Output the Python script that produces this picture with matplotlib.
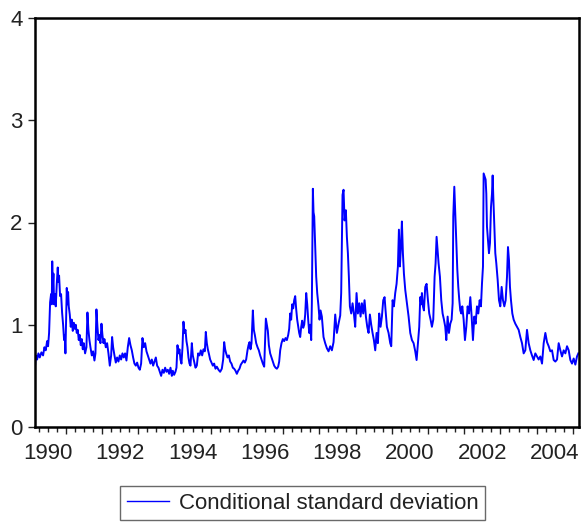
import matplotlib
matplotlib.use("Agg")
import matplotlib.pyplot as plt
from matplotlib.ticker import MultipleLocator, NullFormatter

# ---- data (decimal year, conditional std dev) ----
years_1990_1993 = [
    1990.152, 1990.171, 1990.208, 1990.244, 1990.281, 1990.327, 1990.373, 1990.410,
    1990.447, 1990.484, 1990.511, 1990.539, 1990.567, 1990.594, 1990.613, 1990.626,
    1990.640, 1990.659, 1990.677, 1990.705, 1990.723, 1990.751, 1990.778, 1990.797,
    1990.815, 1990.843, 1990.870, 1990.898, 1990.926, 1990.953, 1990.972, 1990.990,
    1991.009, 1991.027, 1991.045, 1991.064, 1991.082, 1991.110, 1991.137, 1991.165,
    1991.193, 1991.220, 1991.248, 1991.276, 1991.303, 1991.331, 1991.358, 1991.386,
    1991.414, 1991.441, 1991.469, 1991.497, 1991.533, 1991.570, 1991.598, 1991.625,
    1991.653, 1991.681, 1991.718, 1991.754, 1991.791, 1991.819, 1991.846, 1991.874,
    1991.902, 1991.929, 1991.957, 1991.985, 1992.012, 1992.040, 1992.067, 1992.104,
    1992.141, 1992.178, 1992.215, 1992.252, 1992.279, 1992.307, 1992.344, 1992.381,
    1992.417, 1992.454, 1992.491, 1992.528, 1992.565, 1992.601, 1992.638, 1992.675,
    1992.712, 1992.749, 1992.786, 1992.823, 1992.859, 1992.896, 1992.933, 1992.970,
    1993.007, 1993.044, 1993.080, 1993.117, 1993.154, 1993.191, 1993.228, 1993.265,
    1993.301, 1993.338, 1993.375, 1993.412, 1993.449, 1993.486, 1993.522, 1993.559,
    1993.596, 1993.633, 1993.670, 1993.707, 1993.743, 1993.780, 1993.817, 1993.854,
    1993.891, 1993.928,
]
values_1990_1993 = [
    0.60, 0.70, 0.66, 0.72, 0.68, 0.73, 0.70, 0.78,
    0.75, 0.84, 0.79, 0.92, 1.22, 1.30, 1.20, 1.62,
    1.35, 1.50, 1.20, 1.30, 1.18, 1.40, 1.56, 1.42,
    1.48, 1.28, 1.30, 1.12, 1.00, 0.85, 0.90, 0.72,
    1.05, 1.36, 1.20, 1.32, 1.18, 1.10, 0.98, 1.05,
    0.94, 1.02, 0.96, 1.00, 0.92, 0.95, 0.85, 0.90,
    0.80, 0.86, 0.76, 0.82, 0.72, 0.78, 1.12, 0.95,
    0.85, 0.78, 0.70, 0.74, 0.65, 0.72, 1.15, 0.98,
    0.85, 0.90, 0.82, 1.01, 0.90, 0.82, 0.86, 0.78,
    0.82, 0.72, 0.60, 0.70, 0.88, 0.78, 0.70, 0.63,
    0.68, 0.64, 0.70, 0.66, 0.72, 0.68, 0.72, 0.65,
    0.78, 0.87, 0.80, 0.75, 0.68, 0.62, 0.60, 0.63,
    0.58, 0.56, 0.62, 0.87, 0.78, 0.82, 0.74, 0.70,
    0.66, 0.62, 0.66, 0.60, 0.64, 0.68, 0.60, 0.58,
    0.54, 0.50, 0.56, 0.53, 0.58, 0.54, 0.56, 0.52,
    0.58, 0.50,
]

years_1994_1997 = [
    1993.955, 1993.991, 1994.028, 1994.056, 1994.084, 1994.111, 1994.139, 1994.166,
    1994.194, 1994.222, 1994.249, 1994.277, 1994.305, 1994.332, 1994.360, 1994.387,
    1994.415, 1994.443, 1994.480, 1994.507, 1994.544, 1994.581, 1994.618, 1994.654,
    1994.691, 1994.728, 1994.765, 1994.802, 1994.839, 1994.866, 1994.894, 1994.922,
    1994.949, 1994.986, 1995.023, 1995.060, 1995.096, 1995.133, 1995.170, 1995.216,
    1995.262, 1995.308, 1995.345, 1995.373, 1995.400, 1995.428, 1995.465, 1995.502,
    1995.538, 1995.575, 1995.612, 1995.649, 1995.686, 1995.723, 1995.759, 1995.796,
    1995.833, 1995.870, 1995.907, 1995.944, 1995.980, 1996.017, 1996.045, 1996.073,
    1996.100, 1996.128, 1996.165, 1996.192, 1996.220, 1996.257, 1996.294, 1996.330,
    1996.367, 1996.404, 1996.441, 1996.478, 1996.524, 1996.551, 1996.579, 1996.607,
    1996.643, 1996.680, 1996.717, 1996.754, 1996.791, 1996.828, 1996.864, 1996.892,
    1996.920, 1996.956, 1996.993, 1997.030, 1997.067, 1997.104, 1997.141, 1997.168,
    1997.196, 1997.223, 1997.251, 1997.279, 1997.306, 1997.334, 1997.362, 1997.389,
    1997.417, 1997.444, 1997.472, 1997.500, 1997.527, 1997.555, 1997.583, 1997.610,
    1997.638, 1997.666, 1997.693, 1997.721, 1997.748,
]
values_1994_1997 = [
    0.55, 0.51, 0.54, 0.58, 0.80, 0.72, 0.76, 0.66,
    0.62, 0.78, 1.03, 0.92, 0.95, 0.84, 0.78, 0.68,
    0.62, 0.60, 0.82, 0.70, 0.64, 0.58, 0.60, 0.72,
    0.70, 0.75, 0.70, 0.76, 0.74, 0.93, 0.82, 0.76,
    0.72, 0.66, 0.63, 0.60, 0.62, 0.57, 0.59, 0.56,
    0.54, 0.57, 0.66, 0.83, 0.76, 0.72, 0.68, 0.70,
    0.64, 0.62, 0.58, 0.57, 0.55, 0.52, 0.55, 0.57,
    0.61, 0.63, 0.65, 0.63, 0.66, 0.75, 0.80, 0.83,
    0.76, 0.82, 1.14, 0.95, 0.90, 0.82, 0.78, 0.75,
    0.70, 0.66, 0.62, 0.59, 1.06, 1.00, 0.94, 0.80,
    0.72, 0.68, 0.64, 0.60, 0.58, 0.57, 0.59, 0.64,
    0.75, 0.82, 0.86, 0.84, 0.87, 0.85, 0.90, 0.96,
    1.11, 1.05, 1.20, 1.16, 1.24, 1.28, 1.15, 1.05,
    0.98, 0.92, 0.88, 0.98, 1.04, 0.97, 1.00, 1.10,
    1.31, 1.20, 1.05, 0.92, 1.00,
]

years_1998_2001 = [
    1997.776, 1997.794, 1997.822, 1997.840, 1997.859, 1997.886, 1997.914, 1997.942,
    1997.978, 1998.006, 1998.034, 1998.070, 1998.116, 1998.162, 1998.209, 1998.255,
    1998.301, 1998.347, 1998.393, 1998.439, 1998.485, 1998.531, 1998.577, 1998.604,
    1998.641, 1998.669, 1998.697, 1998.733, 1998.761, 1998.789, 1998.816, 1998.844,
    1998.881, 1998.918, 1998.954, 1998.991, 1999.028, 1999.065, 1999.102, 1999.139,
    1999.175, 1999.212, 1999.249, 1999.286, 1999.323, 1999.360, 1999.396, 1999.433,
    1999.470, 1999.507, 1999.544, 1999.581, 1999.617, 1999.654, 1999.691, 1999.728,
    1999.765, 1999.802, 1999.829, 1999.866, 1999.912, 1999.958, 1999.986, 2000.023,
    2000.059, 2000.096, 2000.133, 2000.170, 2000.198, 2000.225, 2000.253, 2000.280,
    2000.308, 2000.336, 2000.373, 2000.419, 2000.465, 2000.511, 2000.557, 2000.603,
    2000.649, 2000.686, 2000.722, 2000.759, 2000.787, 2000.815, 2000.833, 2000.861,
    2000.888, 2000.925, 2000.962, 2000.999, 2001.035, 2001.072, 2001.109, 2001.146,
    2001.183, 2001.210, 2001.238, 2001.266, 2001.293, 2001.330, 2001.367, 2001.404,
    2001.441, 2001.477,
]
values_1998_2001 = [
    0.85, 1.21, 2.33, 2.10, 2.06, 1.76, 1.47, 1.31,
    1.18, 1.05, 1.14, 1.08, 0.88, 0.82, 0.77, 0.74,
    0.79, 0.75, 0.83, 1.10, 0.92, 1.01, 1.09, 1.31,
    2.27, 2.32, 2.02, 2.12, 1.86, 1.70, 1.47, 1.18,
    1.11, 1.21, 1.11, 0.98, 1.31, 1.11, 1.21, 1.08,
    1.21, 1.11, 1.24, 1.08, 0.98, 0.92, 1.10, 1.00,
    0.92, 0.85, 0.75, 0.92, 0.82, 1.11, 0.98, 1.08,
    1.24, 1.27, 1.14, 0.98, 0.92, 0.82, 0.79, 1.24,
    1.18, 1.31, 1.40, 1.57, 1.93, 1.57, 1.76, 2.01,
    1.70, 1.50, 1.34, 1.21, 1.08, 0.92, 0.85, 0.82,
    0.74, 0.655, 0.82, 0.98, 1.27, 1.20, 1.31, 1.18,
    1.14, 1.37, 1.40, 1.24, 1.11, 1.05, 0.98, 1.05,
    1.47, 1.60, 1.86, 1.73, 1.60, 1.47, 1.24, 1.11,
    1.05, 0.98,
]

years_2001_2005 = [
    2001.506, 2001.543, 2001.579, 2001.616, 2001.653, 2001.681, 2001.699, 2001.727,
    2001.754, 2001.782, 2001.810, 2001.837, 2001.865, 2001.892, 2001.920, 2001.948,
    2001.985, 2002.021, 2002.058, 2002.095, 2002.132, 2002.169, 2002.206, 2002.242,
    2002.279, 2002.316, 2002.353, 2002.390, 2002.427, 2002.463, 2002.491, 2002.519,
    2002.537, 2002.565, 2002.592, 2002.611, 2002.629, 2002.657, 2002.684, 2002.712,
    2002.740, 2002.767, 2002.786, 2002.804, 2002.832, 2002.859, 2002.887, 2002.924,
    2002.961, 2002.997, 2003.034, 2003.071, 2003.108, 2003.145, 2003.182, 2003.209,
    2003.237, 2003.264, 2003.292, 2003.329, 2003.366, 2003.412, 2003.458, 2003.504,
    2003.550, 2003.596, 2003.642, 2003.688, 2003.734, 2003.780, 2003.826, 2003.872,
    2003.918, 2003.964, 2004.010, 2004.056, 2004.102, 2004.149, 2004.195, 2004.241,
    2004.287, 2004.333, 2004.379, 2004.425, 2004.471, 2004.517, 2004.563, 2004.609,
    2004.655, 2004.701, 2004.747, 2004.793, 2004.839, 2004.885, 2004.931, 2004.977,
    2005.023, 2005.069, 2005.115, 2005.152,
]
values_2001_2005 = [
    0.85, 1.08, 0.92, 1.01, 1.05, 1.21, 2.06, 2.35,
    2.09, 1.80, 1.54, 1.37, 1.24, 1.14, 1.11, 1.18,
    1.05, 0.85, 0.98, 1.18, 1.11, 1.27, 1.08, 0.85,
    1.08, 1.01, 1.18, 1.11, 1.24, 1.18, 1.40, 1.57,
    2.48, 2.45, 2.42, 2.28, 1.96, 1.83, 1.70, 1.80,
    2.15, 2.28, 2.46, 2.25, 1.96, 1.70, 1.60, 1.44,
    1.24, 1.18, 1.37, 1.24, 1.18, 1.24, 1.47, 1.76,
    1.63, 1.37, 1.24, 1.11, 1.05, 1.01, 0.98, 0.95,
    0.88, 0.82, 0.72, 0.75, 0.95, 0.82, 0.75, 0.70,
    0.655, 0.72, 0.69, 0.66, 0.69, 0.62, 0.82, 0.92,
    0.83, 0.79, 0.74, 0.75, 0.655, 0.64, 0.66, 0.82,
    0.75, 0.69, 0.75, 0.72, 0.79, 0.75, 0.655, 0.62,
    0.67, 0.61, 0.69, 0.72,
]

years = years_1990_1993 + years_1994_1997 + years_1998_2001 + years_2001_2005
values = values_1990_1993 + values_1994_1997 + values_1998_2001 + values_2001_2005

y_ticks = [0, 1, 2, 3, 4]
x_label_years = [1990, 1992, 1994, 1996, 1998, 2000, 2002, 2004]
series_name = "Conditional standard deviation"

# ---- plotting ----
plt.rcParams['font.family'] = ['Liberation Sans', 'DejaVu Sans']
W, H = 582, 524
FS = 16
fig = plt.figure(figsize=(W / 100, H / 100), dpi=100)
ax = fig.add_axes([35 / W, 1 - 427 / H, (579 - 35) / W, (427 - 18) / H])

ax.plot(years, values, color='#0000FF', lw=1.4, label=series_name)

ax.set_xlim(1990.15, 2005.17)
ax.set_ylim(0, 4)
ax.set_yticks(y_ticks)
ax.set_yticklabels([str(v) for v in y_ticks])

ax.xaxis.set_major_locator(MultipleLocator(1))
ax.xaxis.set_minor_locator(MultipleLocator(0.25))
ax.xaxis.set_major_formatter(NullFormatter())
ax.tick_params(axis='x', which='major', direction='out', length=5, width=1.0, color='#222222')
ax.tick_params(axis='x', which='minor', direction='out', length=3.5, width=1.0, color='#222222')
ax.tick_params(axis='y', which='major', direction='out', length=5, width=1.0, pad=4,
               labelsize=FS, color='#222222', labelcolor='#222222')
ax.tick_params(top=False, right=False)

sec = ax.secondary_xaxis('bottom')
sec.set_xticks([y + 0.5 for y in x_label_years])
sec.set_xticklabels([str(y) for y in x_label_years])
sec.tick_params(length=0, pad=11.5, labelsize=FS, labelcolor='#222222')
sec.spines['bottom'].set_visible(False)

for s in ax.spines.values():
    s.set_linewidth(1.8)
    s.set_color('black')

leg = fig.legend(loc='upper left', bbox_to_anchor=(120 / W, 1 - 486 / H),
                 frameon=True, fancybox=False, shadow=False, fontsize=FS,
                 handlelength=1.9, handletextpad=0.45, borderpad=0.3,
                 borderaxespad=0)
leg.get_frame().set_edgecolor('#444444')
leg.get_frame().set_linewidth(1.0)
for t in leg.get_texts():
    t.set_color('#222222')
for l in leg.get_lines():
    l.set_linewidth(1.0)

fig.savefig('out.png', dpi=100)
